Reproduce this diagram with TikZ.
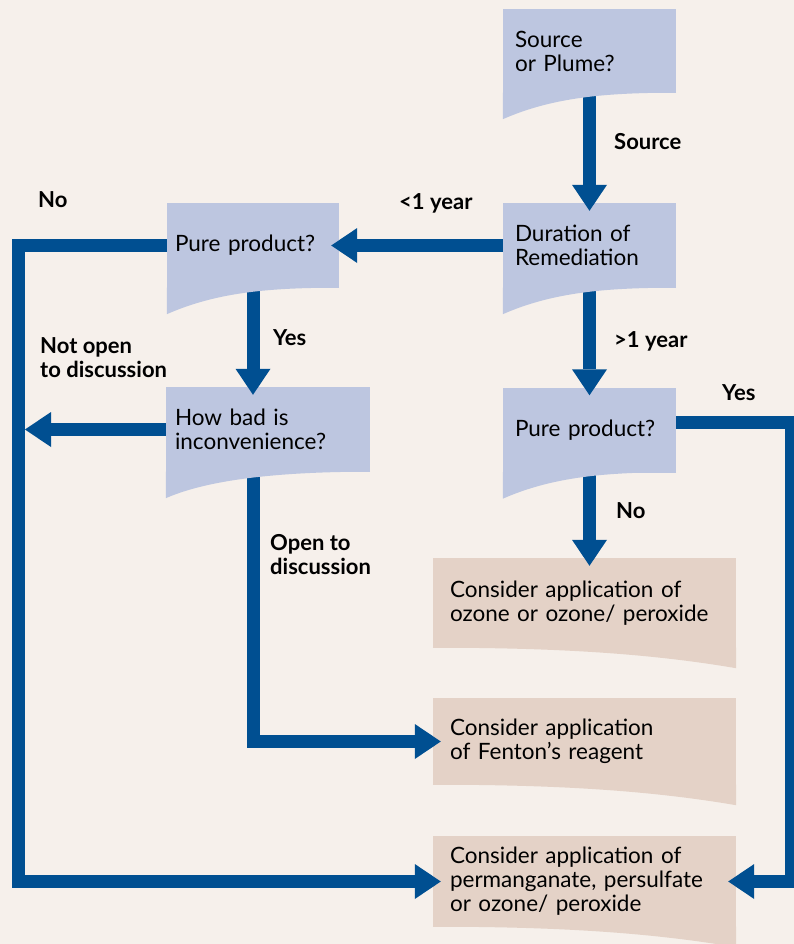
\documentclass[tikz,border=0pt]{standalone}
\usepackage{fontspec}
\setmainfont{Lato}
\usetikzlibrary{arrows.meta,positioning,calc}
\definecolor{bg}{HTML}{F6F0EB}
\definecolor{qcol}{HTML}{BDC6E0}
\definecolor{acol}{HTML}{E4D2C7}
\definecolor{arrblue}{HTML}{004F91}

\begin{document}
\begin{tikzpicture}[x=1pt, y=1pt, every node/.style={font=\fontsize{22.5}{24}\selectfont}, qbox/.style={fill=qcol, inner xsep=12pt, inner ysep=0pt, align=left, minimum height=85pt}, abox/.style={fill=acol, inner xsep=17pt, inner ysep=0pt, align=left, text width=269pt}, lab/.style={font=\fontsize{22}{24}\selectfont\bfseries, anchor=west, align=left, inner sep=0pt}, arr/.style={draw=arrblue, line width=13pt, -{Triangle[length=26pt,width=35pt,line width=0pt]}, shorten >=-8pt}]
\clip (0,0) rectangle (794,-944);
\fill[bg] (0,0) rectangle (794,-944);
% question boxes
\node[qbox, text width=149pt, minimum height=84pt] (src) at (589.5,-51) {Source\\or Plume?};
\node[qbox, text width=149pt] (dur) at (589.5,-245.5) {Duration of\\Remediation};
\node[qbox, inner xsep=8pt, text width=156pt] (pp1) at (253,-245.5) {Pure product?};
\node[qbox, inner xsep=9pt, text width=186pt] (hb) at (268,-429.5) {How bad is\\inconvenience?};
\node[qbox, text width=149pt] (pp2) at (589.5,-430) {Pure product?};
% answer boxes
\node[abox, minimum height=90pt] (oz) at (584.5,-603) {Consider application of\\ozone or ozone/ peroxide};
\node[abox, minimum height=87pt] (fen) at (584.5,-741.5) {Consider application\\of Fenton’s reagent};
\node[abox, minimum height=91pt] (perm) at (584.5,-881.5) {Consider application of\\permanganate, persulfate\\or ozone/ peroxide};
\coordinate (ln) at (18.5,0);
\coordinate (rn) at (791.5,0);
% connectors
\draw[arr] (src.south) -- (dur.north);
\draw[arr] (dur.west) -- (pp1.east);
\draw[arr] (dur.south) -- (pp2.north);
\draw[arr] (pp1.south) -- (hb.north -| pp1.south);
\draw[arr] (pp2.south) -- (oz.north -| pp2.south);
\draw[arr] (pp1.west) -| (ln |- perm.west) -- (perm.west);
\draw[arr, shorten >=0pt] (hb.west) -- ([xshift=6.5pt]hb.west -| ln);
\draw[arr] (hb.south -| pp1.south) |- (fen.west);
\draw[arr] ([yshift=7.5pt]pp2.east) -| (rn |- perm.east) -- (perm.east);
% wavy bottoms
\foreach \n in {src,dur,pp1,hb,pp2} \fill[qcol] ([yshift=0.5pt]\n.south west) -- ([yshift=0.5pt]\n.south east) .. controls +(-70,0) and +(50,22) .. ([yshift=-26pt]\n.south west) -- cycle;
\foreach \n in {oz,fen,perm} \fill[acol] ([yshift=0.5pt]\n.south east) -- ([yshift=0.5pt]\n.south west) .. controls +(122,0) and +(-88,15) .. ([yshift=-20pt]\n.south east) -- cycle;
% labels
\node[lab] (lsrc) at (614,-142) {Source};
\node[lab] (lshort) at (399,-203) {<1 year};
\node[lab] (lno1) at (38,-200) {No};
\node[lab] (lyes1) at (273,-338) {Yes};
\node[lab] (lnotopen) at (40,-357.5) {Not open\\to discussion};
\node[lab] (lopen) at (270,-554.5) {Open to\\discussion};
\node[lab] (llong) at (614,-341) {>1 year};
\node[lab] (lyes2) at (722,-393) {Yes};
\node[lab] (lno2) at (616,-511) {No};
\end{tikzpicture}
\end{document}
